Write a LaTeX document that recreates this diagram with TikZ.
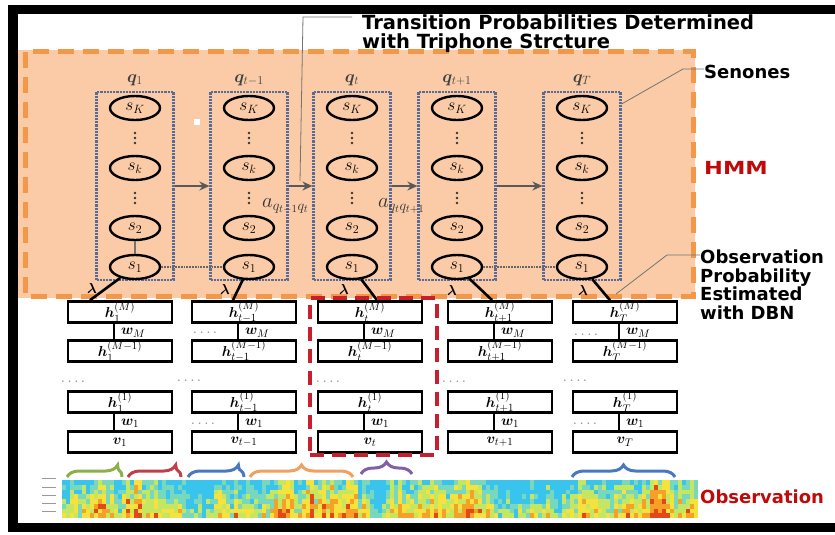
\documentclass[tikz,border=0pt]{standalone}
\usepackage{amsmath,amssymb,bm}
\usepackage{graphicx}
\usepackage{xcolor}
\usepackage{fontspec}
\setsansfont{DejaVu Sans}
\usepackage{tikz}
\usetikzlibrary{positioning, arrows.meta, shapes.geometric, decorations.pathreplacing, calc}

\definecolor{hmmfill}{RGB}{250,203,166}
\definecolor{hmmdash}{RGB}{242,152,72}
\definecolor{senblue}{RGB}{88,106,150}
\definecolor{dbnred}{RGB}{200,30,45}
\definecolor{lblred}{RGB}{192,10,10}
\definecolor{brgreen}{RGB}{138,176,74}
\definecolor{brred}{RGB}{192,64,74}
\definecolor{brblue}{RGB}{74,120,192}
\definecolor{brorange}{RGB}{240,160,96}
\definecolor{brpurple}{RGB}{128,96,168}
\definecolor{spec0}{RGB}{56,196,236}
\definecolor{spec1}{RGB}{120,216,190}
\definecolor{spec2}{RGB}{196,230,96}
\definecolor{spec3}{RGB}{246,226,60}
\definecolor{spec4}{RGB}{246,160,40}
\definecolor{spec5}{RGB}{228,72,24}

\newcommand{\dotrow}{.\hspace{3.5pt}.\hspace{3.5pt}.\hspace{3.5pt}.}

\begin{document}
\begin{tikzpicture}[x=1pt, y=-1pt,
        state/.style={draw, ellipse, line width=2.4pt, minimum width=50pt, minimum height=24pt, inner sep=0pt, font=\fontsize{18}{18}\selectfont},
        senone/.style={draw=senblue, densely dotted, line width=2.2pt, minimum width=77pt, minimum height=188pt},
        layer/.style={draw, line width=2.6pt, minimum width=104pt, minimum height=21pt, inner sep=0pt, font=\fontsize{15}{15}\selectfont},
        harrow/.style={-{Stealth[length=10pt, width=9pt]}, line width=2.8pt, draw=black!65},
        link/.style={line width=2.6pt},
        weight/.style={anchor=west, inner sep=0pt, font=\fontsize{15}{15}\selectfont},
        lam/.style={inner sep=0pt, font=\fontsize{14}{14}\selectfont},
        callout/.style={draw=black!55, line width=0.8pt},
        hdots/.style={inner sep=0pt, text=black!45, font=\bfseries\fontsize{10}{10}\selectfont},
        tag/.style={anchor=west, inner sep=0pt, align=left, font=\sffamily\bfseries\fontsize{18}{18.5}\selectfont},
        qlabel/.style={inner sep=0pt, text=black!75, font=\fontsize{17}{17}\selectfont},
        brc/.style={decorate, decoration={brace, amplitude=12pt}, line width=3pt}
    ]
    \useasboundingbox (0,0) rectangle (835,535);
    \fill[white] (0,0) rectangle (835,535);

    % --- HMM region ---
    \fill[hmmfill] (18,50) rectangle (695,298);
    \draw[hmmdash, line width=5pt, dash pattern=on 16pt off 9pt] (25,52) rectangle (693,296);
    \fill[white] (194,119) rectangle ++(6,6);

    % --- Senone columns ---
    \node[qlabel] (q1) at (135,80) {$\bm{q}_1$};
    \node[qlabel] (q2) at (249,80) {$\bm{q}_{t-1}$};
    \node[qlabel] (q3) at (352,80) {$\bm{q}_t$};
    \node[qlabel] (q4) at (457,80) {$\bm{q}_{t+1}$};
    \node[qlabel] (q5) at (582,80) {$\bm{q}_T$};

    \node[senone] (sen1) at (135,186) {};
    \node[senone] (sen2) at (249,186) {};
    \node[senone] (sen3) at (352,186) {};
    \node[senone] (sen4) at (457,186) {};
    \node[senone] (sen5) at (582,186) {};

    \node[state] (top1) at (135,108) {$s_K$}; \node[state] (mid1) at (135,168) {$s_k$};
    \node[state] (two1) at (135,228) {$s_2$}; \node[state] (one1) at (135,267) {$s_1$};
    \node[state] (top2) at (249,108) {$s_K$}; \node[state] (mid2) at (249,168) {$s_k$};
    \node[state] (two2) at (249,228) {$s_2$}; \node[state] (one2) at (249,267) {$s_1$};
    \node[state] (top3) at (352,108) {$s_K$}; \node[state] (mid3) at (352,168) {$s_k$};
    \node[state] (two3) at (352,228) {$s_2$}; \node[state] (one3) at (352,267) {$s_1$};
    \node[state] (top4) at (457,108) {$s_K$}; \node[state] (mid4) at (457,168) {$s_k$};
    \node[state] (two4) at (457,228) {$s_2$}; \node[state] (one4) at (457,267) {$s_1$};
    \node[state] (top5) at (582,108) {$s_K$}; \node[state] (mid5) at (582,168) {$s_k$};
    \node[state] (two5) at (582,228) {$s_2$}; \node[state] (one5) at (582,267) {$s_1$};

    % vertical dots between states
    \foreach \x in {135,249,352,457,582}
        \foreach \y in {133,138,143,193,198,203}
            \fill[black!80] (\x,\y) circle (1.4pt);

    % --- Transitions ---
    \draw[harrow] (sen1) -- (sen2);
    \draw[harrow] (sen2) -- (sen3);
    \draw[harrow] (sen3) -- (sen4);
    \draw[harrow] (sen4) -- (sen5);
    \node[anchor=west, inner sep=0pt, text=black!80, font=\fontsize{22}{22}\selectfont] (aq1) at (262,206) {$a_{q_{t-1}q_t}$};
    \node[anchor=west, inner sep=0pt, text=black!80, font=\fontsize{22}{22}\selectfont] (aq2) at (378,206) {$a_{q_tq_{t+1}}$};
    \draw[black!55, line width=1.2pt] (two1) -- (one1);
    \draw[black!60, densely dotted, line width=1.8pt] (one1) -- (one2);
    \draw[black!60, densely dotted, line width=1.8pt] (one4) -- (one5);

    % --- DBN stacks ---
    \node[layer] (hm1) at (120,312) {$\bm{h}^{(M)}_1$\hspace{44pt}};
    \node[layer] (hn1) at (120,351) {$\bm{h}^{(M-1)}_1$\hspace{40pt}};
    \node[layer] (ha1) at (120,402) {$\bm{h}^{(1)}_1$\hspace{44pt}};
    \node[layer] (v1)  at (120,442) {$\bm{v}_1$\hspace{40pt}};

    \node[layer] (hm2) at (244,312) {$\bm{h}^{(M)}_{t-1}$};
    \node[layer] (hn2) at (244,351) {$\bm{h}^{(M-1)}_{t-1}$};
    \node[layer] (ha2) at (244,402) {$\bm{h}^{(1)}_{t-1}$};
    \node[layer] (v2)  at (244,442) {$\bm{v}_{t-1}$};

    \node[layer] (hm3) at (370,312) {$\bm{h}^{(M)}_t$};
    \node[layer] (hn3) at (370,351) {$\bm{h}^{(M-1)}_t$};
    \node[layer] (ha3) at (370,402) {$\bm{h}^{(1)}_t$};
    \node[layer] (v3)  at (370,442) {$\bm{v}_t$};

    \node[layer] (hm4) at (500,312) {$\bm{h}^{(M)}_{t+1}$};
    \node[layer] (hn4) at (500,351) {$\bm{h}^{(M-1)}_{t+1}$};
    \node[layer] (ha4) at (500,402) {$\bm{h}^{(1)}_{t+1}$};
    \node[layer] (v4)  at (500,442) {$\bm{v}_{t+1}$};

    \node[layer] (hm5) at (625,312) {$\bm{h}^{(M)}_T$};
    \node[layer] (hn5) at (625,351) {$\bm{h}^{(M-1)}_T$};
    \node[layer] (ha5) at (625,402) {$\bm{h}^{(1)}_T$};
    \node[layer] (v5)  at (625,442) {$\bm{v}_T$};

    % --- Weights ---
    \draw[link] ([xshift=-6pt]hm1.south) -- ([xshift=-6pt]hn1.north);
    \draw[link] ([xshift=-6pt]ha1.south) -- ([xshift=-6pt]v1.north);
    \draw[link] ([xshift=-6pt]hm2.south) -- ([xshift=-6pt]hn2.north);
    \draw[link] ([xshift=-6pt]ha2.south) -- ([xshift=-6pt]v2.north);
    \draw[link] ([xshift=-6pt]hm3.south) -- ([xshift=-6pt]hn3.north);
    \draw[link] ([xshift=-6pt]ha3.south) -- ([xshift=-6pt]v3.north);
    \draw[link] ([xshift=-6pt]hm4.south) -- ([xshift=-6pt]hn4.north);
    \draw[link] ([xshift=-6pt]ha4.south) -- ([xshift=-6pt]v4.north);
    \draw[link] ([xshift=-6pt]hm5.south) -- ([xshift=-6pt]hn5.north);
    \draw[link] ([xshift=-6pt]ha5.south) -- ([xshift=-6pt]v5.north);
    \node[weight] (wm1) at (121,333) {$\bm{w}_M$}; \node[weight] (wa1) at (121,423) {$\bm{w}_1$};
    \node[weight] (wm2) at (245,333) {$\bm{w}_M$}; \node[weight] (wa2) at (245,423) {$\bm{w}_1$};
    \node[weight] (wm3) at (371,333) {$\bm{w}_M$}; \node[weight] (wa3) at (371,423) {$\bm{w}_1$};
    \node[weight] (wm4) at (501,333) {$\bm{w}_M$}; \node[weight] (wa4) at (501,423) {$\bm{w}_1$};
    \node[weight] (wm5) at (626,333) {$\bm{w}_M$}; \node[weight] (wa5) at (626,423) {$\bm{w}_1$};

    % --- Observation probabilities ---
    \draw[link] ([xshift=-30pt]hm1.north) -- (one1);
    \draw[link] ([xshift=-11pt]hm2.north) -- (one2);
    \draw[link] ([xshift=7pt]hm3.north) -- (one3);
    \draw[link] ([xshift=-8pt]hm4.north) -- (one4);
    \draw[link] ([xshift=-15pt]hm5.north) -- (one5);
    \node[lam] (lam1) at (92,288) {$\bm{\lambda}$};
    \node[lam] (lam2) at (225,289) {$\bm{\lambda}$};
    \node[lam] (lam3) at (344,289) {$\bm{\lambda}$};
    \node[lam] (lam4) at (452,290) {$\bm{\lambda}$};
    \node[lam] (lam5) at (583,290) {$\bm{\lambda}$};

    % frame of frame t
    \node[draw=dbnred, line width=3.5pt, dash pattern=on 14pt off 8pt, minimum width=127pt, minimum height=157pt] (tframe) at (373.5,376.5) {};

    % dots between stacks
    \node[hdots] (dt1) at (205,333) {\dotrow};
    \node[hdots] (dt2) at (586,335) {\dotrow};
    \node[hdots] (dr1) at (73,382) {\dotrow};
    \node[hdots] (dr2) at (189,381) {\dotrow};
    \node[hdots] (dr3) at (328,382) {\dotrow};
    \node[hdots] (dr4) at (454,382) {\dotrow};
    \node[hdots] (dr5) at (575,381) {\dotrow};
    \node[hdots] (dv1) at (203,424) {\dotrow};
    \node[hdots] (dv2) at (585,424) {\dotrow};

    % --- Frame braces ---
    \draw[brc, draw=brgreen, decoration={aspect=0.92}] (67,477) -- (122,477);
    \draw[brc, draw=brred, decoration={aspect=0.9}] (128,477) -- (181,477);
    \draw[brc, draw=brblue, decoration={aspect=0.9}] (188,477) -- (244,477);
    \draw[brc, draw=brorange, decoration={aspect=0.5}] (250,477) -- (353,477);
    \draw[brc, draw=brpurple, decoration={aspect=0.5}] (361,474) -- (412,474);
    \draw[brc, draw=brblue, decoration={aspect=0.5}] (572,477) -- (675,477);

    % --- Spectrogram ---
    \pgfmathsetseed{23}
    \foreach \i [remember=\e as \eprev (initially 0)] in {0,...,158}{
        \pgfmathsetmacro\e{0.75*\eprev+0.5*(rnd-0.5)+0.04*sin(\i*23)}
        \foreach \j in {0,...,7}{
            \pgfmathtruncatemacro\k{max(0,min(5,(0.6*\e+0.04*\j+0.25*rnd-0.02)/0.1))}
            \fill[spec\k] (62+4*\i,480+4.75*\j) rectangle ++(4.2,4.95);
        }
    }
    \foreach \y in {478,487,495,503,511} \draw[black!40, line width=1pt] (42,\y) -- (56,\y);

    % --- Labels ---
    \node[tag, anchor=north west, font=\sffamily\bfseries\fontsize{19.5}{19}\selectfont] (trans) at (362,14) {Transition Probabilities Determined\\with Triphone Strcture};
    \node[tag] (senones) at (704,72) {Senones};
    \node[tag, text=lblred] (hmm) at (704,168) {\scalebox{1.25}[1]{HMM}};
    \node[tag, anchor=north west] (obsprob) at (700,250) {Observation\\Probability\\Estimated\\with DBN};
    \node[tag, text=lblred] (obs) at (700,497) {Observation};

    \coordinate (tstart) at (352,17);
    \coordinate (tknee) at (303,17);
    \coordinate (tarr) at (300,181);
    \draw[callout] (tstart) -- (tknee) -- (tarr);
    \coordinate (senknee) at (683,69);
    \draw[callout] (sen5.east |- 0,104) -- (senknee) -- (senknee -| senones.west);
    \coordinate (obsfoot) at (616,294);
    \coordinate (obsknee) at (667,255);
    \draw[callout] (obsfoot) -- (obsknee) -- (obsknee -| obsprob.west);

    % outer frame
    \draw[line width=9.5pt] (13,9.5) rectangle (860,527.5);
\end{tikzpicture}
\end{document}
